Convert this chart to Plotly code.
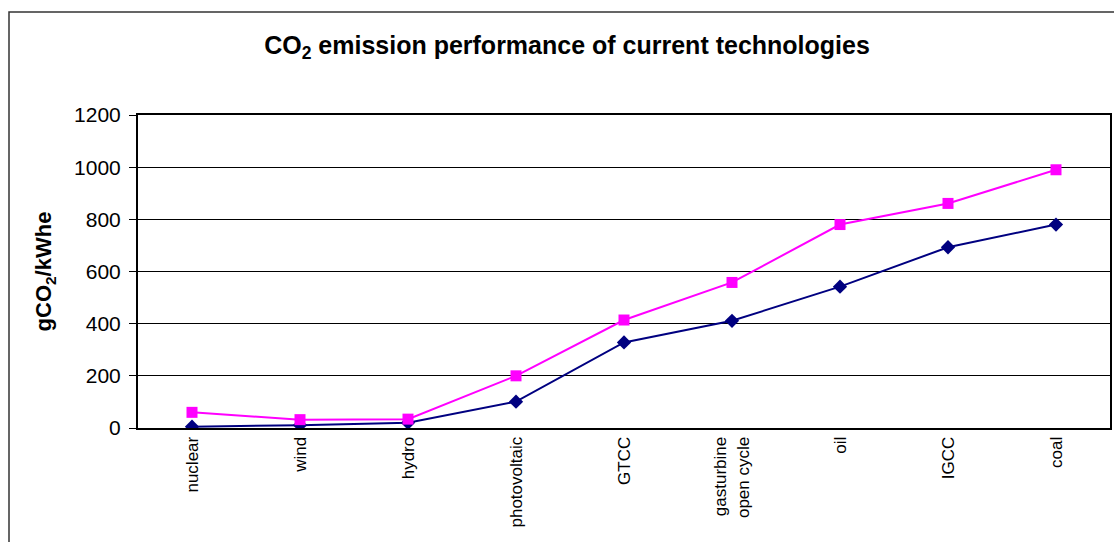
import plotly.graph_objects as go

# Technologies on the category axis
technologies = ["nuclear", "wind", "hydro", "photovoltaic", "GTCC",
                "gasturbine<br>open cycle", "oil", "IGCC", "coal"]

# Emissions in gCO2/kWhe (lower and upper estimates)
low_values = [5, 11, 20, 101, 328, 411, 542, 693, 780]
high_values = [60, 32, 34, 200, 414, 558, 780, 861, 990]

y_ticks = [0, 200, 400, 600, 800, 1000, 1200]

FONT = "Liberation Sans, Arial, sans-serif"

fig = go.Figure()
fig.add_trace(go.Scatter(
    x=technologies, y=low_values, mode="lines+markers",
    line=dict(color="#000080", width=2),
    marker=dict(symbol="diamond", size=11, color="#000080"),
    showlegend=False,
))
fig.add_trace(go.Scatter(
    x=technologies, y=high_values, mode="lines+markers",
    line=dict(color="#FF00FF", width=2),
    marker=dict(symbol="square", size=11, color="#FF00FF"),
    showlegend=False,
))

W, H = 1114, 542
L, R, T, B = 138, 4, 115, 114
pw, ph = W - L - R, H - T - B

def px_x(px):
    return (px - L) / pw

def px_y(py):
    return (H - B - py) / ph

fig.update_layout(
    width=W, height=H,
    margin=dict(l=L, r=R, t=T, b=B, autoexpand=False),
    paper_bgcolor="white", plot_bgcolor="white",
    font=dict(family=FONT, color="black"),
    title=dict(
        text="CO<sub>2</sub> emission performance of current technologies",
        x=567 / W, xanchor="center", xref="container",
        y=1 - 45 / H, yanchor="middle", yref="container",
        font=dict(family=FONT, size=25, color="black", weight="bold"),
    ),
    xaxis=dict(
        type="category", range=[-0.5, 8.5],
        showgrid=False, showline=True, linecolor="black", linewidth=2,
        mirror=True, ticks="", tickangle=-90,
        tickfont=dict(family=FONT, size=17, color="black"),
    ),
    yaxis=dict(
        range=[0, 1200], tickvals=y_ticks,
        showgrid=True, gridcolor="black", gridwidth=1,
        showline=True, linecolor="black", linewidth=2, mirror=True,
        ticks="outside", ticklen=7, tickcolor="black",
        ticklabelstandoff=4,
        tickfont=dict(family=FONT, size=21, color="black"),
        zeroline=False,
        title=dict(text="gCO<sub>2</sub>/kWhe", standoff=16,
                   font=dict(family=FONT, size=22, color="black", weight="bold")),
    ),
    shapes=[dict(
        type="rect", xref="paper", yref="paper",
        x0=px_x(9), x1=px_x(1130), y0=px_y(560), y1=px_y(12),
        line=dict(color="#333333", width=1.5), fillcolor="rgba(0,0,0,0)",
        layer="below",
    )],
)

fig.write_html("out.html")
